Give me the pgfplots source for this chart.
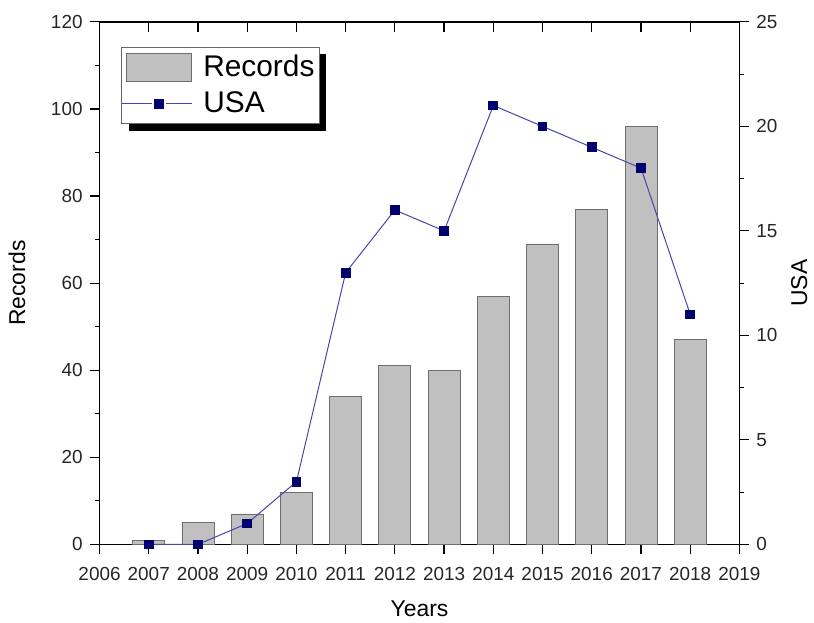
\documentclass[border=0pt]{standalone}
\usepackage{fontspec}
\setmainfont{Liberation Sans}
\usepackage{pgfplots}
\pgfplotsset{compat=1.18}
\usetikzlibrary{shadows}
\makeatletter
\tikzset{no preactions/.code={\let\tikz@preactions\pgfutil@empty}}
\makeatother
\definecolor{barfill}{RGB}{192,192,192}
\definecolor{baredge}{RGB}{110,110,110}
\definecolor{usaline}{RGB}{70,70,170}
\definecolor{usamark}{RGB}{0,0,110}
\begin{document}
\begin{tikzpicture}
\pgfplotsset{
  every axis/.append style={
    scale only axis, width=321.5pt, height=262.5pt,
    xmin=2006, xmax=2019,
    /pgf/number format/assume math mode=true,
    /pgf/number format/1000 sep={},
    tick label style={font=\fontsize{9.5}{11}\selectfont, text=black!85},
    major tick length=5pt, minor tick length=2.5pt,
    every tick/.style={black, line width=0.6pt},
    axis line style={line width=0.7pt},
  }
}
% main axis: bars, left y, bottom x
\begin{axis}[
  name=main,
  ymin=0, ymax=120,
  xtick={2006,...,2019}, minor x tick num=1,
  ytick={0,20,...,120}, minor y tick num=1,
  xtick pos=left, ytick pos=left,
  tick align=outside,
  xticklabel style={yshift=-3pt},
  xlabel={Years}, ylabel={Records},
  xlabel style={font=\fontsize{11.5}{13}\selectfont, yshift=-3pt},
  ylabel style={font=\fontsize{11.5}{13}\selectfont, yshift=6pt},
  legend style={at={(0.034,0.952)}, anchor=north west,
    draw=black!60, line width=0.4pt, fill=white,
    font=\fontsize{15}{18}\selectfont,
    drop shadow={shadow xshift=3.5pt, shadow yshift=-3.5pt, fill=black, opacity=1},
    inner xsep=0pt, inner ysep=2pt, row sep=2pt,
    nodes={inner xsep=2.5pt},
    cells={anchor=west}},
]
\addplot[ybar, bar width=0.65, bar shift=0pt, fill=barfill, draw=baredge, line width=0.4pt,
  legend image code/.code={\draw[no preactions, fill=barfill, draw=baredge, line width=0.4pt] (0pt,-7pt) rectangle (33pt,7pt);}]
  coordinates {(2007,1) (2008,5) (2009,7) (2010,12) (2011,34) (2012,41) (2013,40) (2014,57) (2015,69) (2016,77) (2017,96) (2018,47)};
\addlegendentry{\hspace{3pt}Records}
\addlegendimage{legend image code/.code={
  \draw[no preactions, usaline, line width=0.5pt] (-2pt,0pt) -- (13pt,0pt);
  \draw[no preactions, usaline, line width=0.5pt] (20pt,0pt) -- (33pt,0pt);
  \fill[no preactions, usamark] (14.3pt,-2.2pt) rectangle (18.7pt,2.2pt);}}
\addlegendentry{\hspace{3pt}USA}
\end{axis}
% right axis: USA line
\begin{axis}[
  ymin=0, ymax=25,
  hide x axis,
  axis y line*=right,
  ytick={0,5,...,25}, minor y tick num=1,
  tick align=outside,
  ylabel={USA},
  ylabel style={font=\fontsize{11.5}{13}\selectfont},
]
\addplot[usaline, line width=0.5pt, mark=square*, mark size=2.2pt, mark options={fill=usamark, draw=usamark}]
  coordinates {(2007,0) (2008,0) (2009,1) (2010,3) (2011,13) (2012,16) (2013,15) (2014,21) (2015,20) (2016,19) (2017,18) (2018,11)};
\end{axis}
% top ticks pointing inward
\begin{axis}[
  ymin=0, ymax=1,
  hide y axis,
  axis x line*=top,
  xtick={2006,...,2019}, minor x tick num=1,
  xticklabels={},
  tick align=inside,
]
\end{axis}
\path ([xshift=-50pt,yshift=-38.5pt]main.south west) rectangle ([xshift=35.5pt,yshift=11pt]main.north east);
\end{tikzpicture}
\end{document}
